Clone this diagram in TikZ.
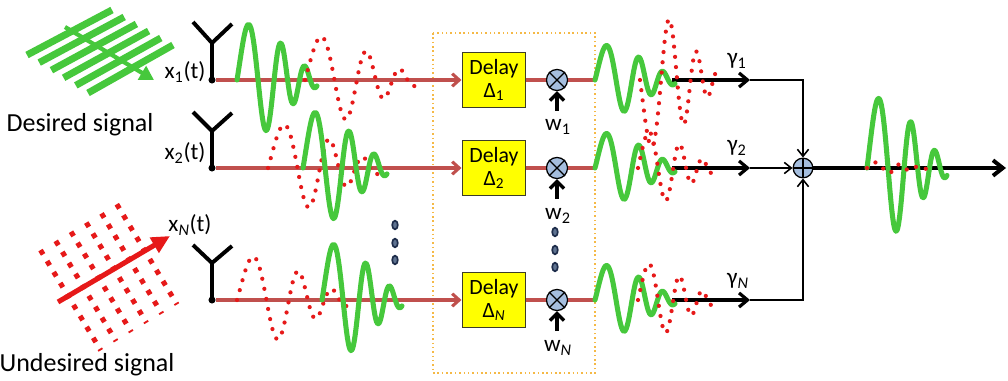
\documentclass[tikz,border=0pt]{standalone}
\usepackage{fontspec}
\setmainfont{Carlito}
\usepackage{tikz}
\usetikzlibrary{positioning,shapes,arrows,arrows.meta}

\definecolor{sigGreen}{RGB}{70,200,60}
\definecolor{sigRed}{RGB}{230,25,25}
\definecolor{feedRed}{RGB}{192,80,77}
\definecolor{mulBlue}{RGB}{165,190,222}
\definecolor{boxOrange}{RGB}{245,185,70}
\definecolor{dotNavy}{RGB}{30,45,75}

\newcommand{\sigwave}[5]{\draw[#5] plot[domain=0:80,samples=70,smooth] ({#1+(#3)*\x},{#2-(#4)*56*exp(0-pow((\x-15)/45,2))*sin(180*(0.0392*\x+0.000401*\x*\x))});}

\begin{document}
\begin{tikzpicture}[x=0.025cm,y=-0.025cm,
	lbl/.style={font=\fontsize{18.5}{20}\selectfont, inner sep=0pt},
	sublbl/.style={font=\fontsize{16.5}{18}\selectfont, inner sep=0pt},
	delaybox/.style={draw={rgb,255:red,60;green,60;blue,40}, line width=0.8pt, fill={rgb,255:red,255;green,255;blue,0}, minimum width=45.4pt, minimum height=39.7pt, inner sep=0pt, align=center, font=\fontsize{15.5}{16}\selectfont},
	mult/.style={circle, draw, line width=0.9pt, fill=mulBlue, minimum size=15pt, inner sep=0pt},
	antdot/.style={circle, fill, minimum size=5pt, inner sep=0pt},
	antenna/.style={line width=2.8pt, line join=round},
	feed/.style={draw=feedRed, line width=2.2pt},
	feedarrow/.style={feed, -{Straight Barb[length=5pt,width=9pt]}},
	weight/.style={line width=2.4pt, -{Straight Barb[length=5pt,width=10pt]}},
	outarrow/.style={line width=2.3pt, -{Straight Barb[length=6pt,width=10pt]}},
	conn/.style={line width=1.1pt, -{Straight Barb[length=5pt,width=8pt]}},
	greenwave/.style={draw=sigGreen, line width=3.6pt, line join=round, line cap=round},
	redwave/.style={draw=sigRed, line width=3pt, line cap=round, dash pattern=on 0pt off 7.3pt},
	groupbox/.style={draw=boxOrange, line width=1.1pt, dotted},
	vdot/.style={draw=dotNavy, fill={rgb,255:red,95;green,115;blue,145}, line width=1.2pt}]
	\useasboundingbox (0,0) rectangle (1008,381);

	\foreach \k in {0,...,5}
		\draw[sigGreen, line width=5pt] ({27+12.2*\k},{55+7.6*\k}) -- ({112+12.2*\k},{10+7*\k});
	\draw[sigGreen, line width=3pt, -{Triangle[length=10pt,width=11pt]}] (65,27) -- (154,80);
	\node[lbl] (desired) at (80,125) {Desired signal};

	\begin{scope}[shift={(108,276)}, rotate=31]
		\foreach \u in {-44.5,-26.7,-8.9,8.9,26.7,44.5}
			\draw[sigRed, line width=3.6pt, dash pattern=on 3.6pt off 5.5pt] (\u,-57) -- (\u,60);
	\end{scope}
	\draw[sigRed, line width=3.6pt, -{Triangle[length=13pt,width=12pt]}] (58,302) -- (170,236);
	\node[lbl] (undesired) at (87,365) {Undesired signal};

	\draw[groupbox] (433,33) rectangle (595,373);

	\node[antdot] (A1) at (212,80) {};
	\node[antdot] (A2) at (212,168) {};
	\node[antdot] (AN) at (212,300) {};
	\draw[antenna] (193,22) -- (212,43) -- (232,24) (212,43) -- (A1.center);
	\draw[antenna] (193,112) -- (212,131) -- (232,113) (212,131) -- (A2.center);
	\draw[antenna] (193,245) -- (212,263) -- (232,246) (212,263) -- (AN.center);
	\node[sublbl] (x1) at (185,72) {x\textsubscript{1}(t)};
	\node[sublbl] (x2) at (185,153) {x\textsubscript{2}(t)};
	\node[sublbl] (xN) at (190,225) {x\textsubscript{\textit{N}}(t)};

	\node[delaybox] (D1) at (494,80) {Delay\\Δ\textsubscript{1}};
	\node[delaybox] (D2) at (494,168) {Delay\\Δ\textsubscript{2}};
	\node[delaybox] (DN) at (494,300) {Delay\\Δ\textsubscript{\textit{N}}};
	\node[mult] (M1) at (557,80) {};
	\node[mult] (M2) at (557,168) {};
	\node[mult] (MN) at (557,300) {};
	\foreach \m in {M1,M2,MN}
		\draw[line width=0.9pt] (\m.north east) -- (\m.south west) (\m.north west) -- (\m.south east);
	\coordinate (O1) at (595,80);
	\coordinate (O2) at (595,168);
	\coordinate (ON) at (595,300);

	\draw[feedarrow] (A1) -- (D1);
	\draw[feedarrow] (A2) -- (D2);
	\draw[feedarrow] (AN) -- (DN);
	\draw[feed] (D1) -- (M1);
	\draw[feed] (D2) -- (M2);
	\draw[feed] (DN) -- (MN);
	\draw[feed] (M1) -- (O1);
	\draw[feed] (M2) -- (O2);
	\draw[feed] (MN) -- (ON);

	\coordinate (W1) at (557,111);
	\coordinate (W2) at (557,199);
	\coordinate (WN) at (557,331);
	\draw[weight] (W1) -- (M1);
	\draw[weight] (W2) -- (M2);
	\draw[weight] (WN) -- (MN);
	\node[sublbl] (w1) at (558,127) {w\textsubscript{1}};
	\node[sublbl] (w2) at (558,216) {w\textsubscript{2}};
	\node[sublbl] (wN) at (558,348) {w\textsubscript{\textit{N}}};

	\foreach \yy in {225,243,260}
		\draw[vdot] (395,\yy) ellipse [x radius=2.8, y radius=4.3];
	\foreach \yy in {232,250,267}
		\draw[vdot] (555,\yy) ellipse [x radius=2.8, y radius=4.3];

	\coordinate (Y1s) at (672,80);
	\coordinate (Y1e) at (750,80);
	\coordinate (Y2s) at (672,168);
	\coordinate (Y2e) at (750,168);
	\coordinate (YNs) at (672,300);
	\coordinate (YNe) at (750,300);
	\draw[outarrow] (Y1s) -- (Y1e);
	\draw[outarrow] (Y2s) -- (Y2e);
	\draw[outarrow] (YNs) -- (YNe);
	\node[sublbl] (g1) at (737,61) {γ\textsubscript{1}};
	\node[sublbl] (g2) at (737,148) {γ\textsubscript{2}};
	\node[sublbl] (gN) at (738,281) {γ\textsubscript{\textit{N}}};

	\node[mult, minimum size=14pt] (S) at (803,168) {};
	\draw[line width=0.9pt] (S.north) -- (S.south) (S.west) -- (S.east);
	\draw[conn] (Y1e) -| (S);
	\draw[conn] (Y2e) -- (S);
	\draw[conn] (YNe) -| (S);
	\coordinate (Out) at (1006,168);
	\draw[line width=2.8pt, -{Straight Barb[length=7pt,width=11pt]}] (S) -- (Out);

	\sigwave{237}{80}{1}{1}{greenwave}
	\sigwave{305}{80}{1.4}{0.78}{redwave}
	\sigwave{268}{168}{1.4}{0.78}{redwave}
	\sigwave{303}{168}{1.05}{1}{greenwave}
	\sigwave{237}{300}{1.4}{0.78}{redwave}
	\sigwave{322}{300}{1}{1}{greenwave}

	\sigwave{595}{80}{1}{0.62}{greenwave}
	\sigwave{595}{168}{1}{0.62}{greenwave}
	\sigwave{595}{300}{1}{0.62}{greenwave}
	\sigwave{640}{80}{1}{-1.2}{redwave}
	\sigwave{638}{168}{0.95}{0.65}{redwave}
	\sigwave{638}{300}{0.95}{0.65}{redwave}

	\sigwave{867}{168}{1}{1.25}{greenwave}
	\sigwave{867}{168}{0.75}{0.1}{redwave}
\end{tikzpicture}
\end{document}
